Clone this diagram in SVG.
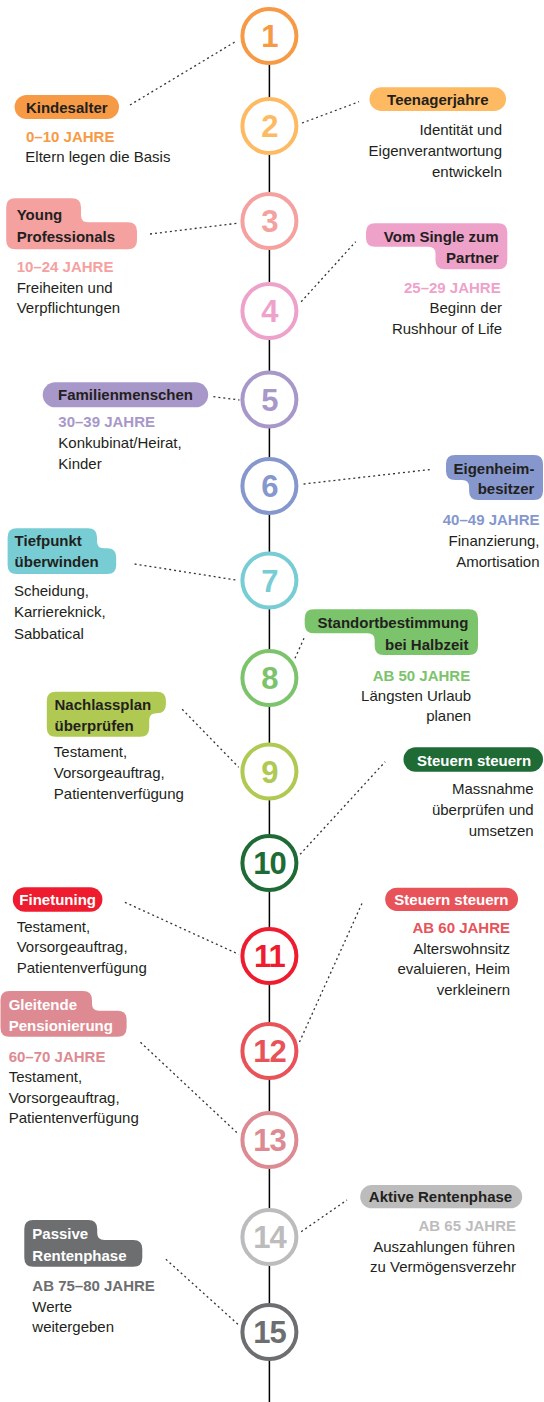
<svg xmlns="http://www.w3.org/2000/svg" width="544" height="1402" viewBox="0 0 544 1402">
<style>
text{font-family:"Liberation Sans",Arial,sans-serif;font-size:15px;fill:#231F20}
.b{font-weight:bold}
.w{fill:#fff}
.e{text-anchor:end}
.m{text-anchor:middle}
.num{font-size:31px;font-weight:bold;text-anchor:middle;letter-spacing:-1px}
.ring{fill:#fff;stroke-width:4}
.dot{stroke:#333;stroke-width:1.3;stroke-dasharray:2 3;fill:none}
.axis{stroke:#000;stroke-width:1.5}
.c1{fill:#F69A45}.r1{stroke:#F69A45}
.c2{fill:#FDBA62}.r2{stroke:#FDBA62}
.c3{fill:#F4A1A0}.r3{stroke:#F4A1A0}
.c4{fill:#EEA2CA}.r4{stroke:#EEA2CA}
.c5{fill:#A898CA}.r5{stroke:#A898CA}
.c6{fill:#8597CD}.r6{stroke:#8597CD}
.c7{fill:#77CDD3}.r7{stroke:#77CDD3}
.c8{fill:#7CC46B}.r8{stroke:#7CC46B}
.c9{fill:#B0C953}.r9{stroke:#B0C953}
.c10{fill:#1F6B36}.r10{stroke:#1F6B36}
.c11{fill:#EE1C2E}.r11{stroke:#EE1C2E}
.c12{fill:#E8535A}.r12{stroke:#E8535A}
.c13{fill:#DD8A92}.r13{stroke:#DD8A92}
.c14{fill:#BDBCBC}.r14{stroke:#BDBCBC}
.c15{fill:#6D6E70}.r15{stroke:#6D6E70}
</style>
<g id="connectors">
<line class="axis" x1="269.4" y1="36" x2="269.4" y2="1402"/>
<line class="dot" x1="130" y1="105" x2="237" y2="40.7"/>
<line class="dot" x1="302" y1="123" x2="359" y2="101.7"/>
<line class="dot" x1="150" y1="234" x2="237" y2="223.3"/>
<line class="dot" x1="301.2" y1="301.7" x2="355.7" y2="241.7"/>
<line class="dot" x1="213.4" y1="396.7" x2="239.4" y2="400"/>
<line class="dot" x1="303.6" y1="484" x2="432" y2="469.3"/>
<line class="dot" x1="134.6" y1="564" x2="236" y2="580"/>
<line class="dot" x1="295" y1="658.3" x2="304.7" y2="636.7"/>
<line class="dot" x1="182.2" y1="709.3" x2="238.7" y2="767.3"/>
<line class="dot" x1="300.1" y1="854.3" x2="385.2" y2="761.7"/>
<line class="dot" x1="124.9" y1="902.3" x2="238.7" y2="954.3"/>
<line class="dot" x1="299.5" y1="1042" x2="362.6" y2="902"/>
<line class="dot" x1="140.5" y1="1042.3" x2="238.7" y2="1134.3"/>
<line class="dot" x1="301.2" y1="1231.7" x2="347" y2="1200"/>
<line class="dot" x1="165.9" y1="1259.3" x2="238.7" y2="1325"/>
</g>
<g id="n1">
<circle class="ring r1" cx="269.4" cy="36" r="27"/>
<text class="num c1" x="269.4" y="47">1</text>
<rect class="c1" x="14.6" y="95" width="104.4" height="24" rx="12"/>
<text class="b m" x="66.8" y="113">Kindesalter</text>
<text class="b c1" x="26" y="141.7">0–10 JAHRE</text>
<text x="25.3" y="161.7">Eltern legen die Basis</text>
</g>
<g id="n2">
<circle class="ring r2" cx="269.4" cy="126" r="27"/>
<text class="num c2" x="269.4" y="137">2</text>
<rect class="c2" x="369.5" y="87.3" width="136.5" height="23.7" rx="11.85"/>
<text class="b m" x="437.8" y="104.5">Teenagerjahre</text>
<text class="e" x="502" y="135">Identität und</text>
<text class="e" x="502" y="155.8">Eigenverantwortung</text>
<text class="e" x="502" y="176.6">entwickeln</text>
</g>
<g id="n3">
<circle class="ring r3" cx="269.4" cy="221" r="27"/>
<text class="num c3" x="269.4" y="232">3</text>
<path class="c3" d="M15.2,198.3 H72 Q81,198.3 81,207.3 V215.3 Q81,222.3 88,222.3 H128 Q137,222.3 137,231.3 V240.3 Q137,249.3 128,249.3 H15.2 Q6.2,249.3 6.2,240.3 V207.3 Q6.2,198.3 15.2,198.3 Z"/>
<text class="b" x="16.7" y="220.3">Young</text>
<text class="b" x="16.7" y="241.7">Professionals</text>
<text class="b c3" x="16.7" y="271.7">10–24 JAHRE</text>
<text x="16.7" y="292.7">Freiheiten und</text>
<text x="16.7" y="313.3">Verpflichtungen</text>
</g>
<g id="n4">
<circle class="ring r4" cx="269.4" cy="311" r="27"/>
<text class="num c4" x="269.4" y="322">4</text>
<path class="c4" d="M375,223.3 H498.3 Q507.3,223.3 507.3,232.3 V260.3 Q507.3,269.3 498.3,269.3 H444.5 Q435.5,269.3 435.5,260.3 V253.7 Q435.5,246.7 428.5,246.7 H375 Q366,246.7 366,237.7 V232.3 Q366,223.3 375,223.3 Z"/>
<text class="b e" x="498.6" y="241.7">Vom Single zum</text>
<text class="b e" x="498.6" y="263.3">Partner</text>
<text class="b e c4" x="500.7" y="293.3">25–29 JAHRE</text>
<text class="e" x="502" y="313.3">Beginn der</text>
<text class="e" x="502" y="334">Rushhour of Life</text>
</g>
<g id="n5">
<circle class="ring r5" cx="269.4" cy="399.5" r="27"/>
<text class="num c5" x="269.4" y="410.5">5</text>
<rect class="c5" x="42.7" y="382.3" width="165.5" height="25" rx="12.5"/>
<text class="b m" x="125.5" y="399.8">Familienmenschen</text>
<text class="b c5" x="58.3" y="427.3">30–39 JAHRE</text>
<text x="58.3" y="448.3">Konkubinat/Heirat,</text>
<text x="58.3" y="469">Kinder</text>
</g>
<g id="n6">
<circle class="ring r6" cx="269.4" cy="486" r="27"/>
<text class="num c6" x="269.4" y="497">6</text>
<path class="c6" d="M455,455 H534 Q543,455 543,464 V491 Q543,500 534,500 H478.1 Q469.1,500 469.1,491 V487 Q469.1,480 462.1,480 H455 Q446,480 446,471 V464 Q446,455 455,455 Z"/>
<text class="b e" x="534.4" y="474">Eigenheim-</text>
<text class="b e" x="534.4" y="494">besitzer</text>
<text class="b e c6" x="539.5" y="525">40–49 JAHRE</text>
<text class="e" x="539.5" y="546">Finanzierung,</text>
<text class="e" x="539.5" y="567">Amortisation</text>
</g>
<g id="n7">
<circle class="ring r7" cx="269.4" cy="580.5" r="27"/>
<text class="num c7" x="269.4" y="591.5">7</text>
<path class="c7" d="M16.6,528.3 H88 Q97,528.3 97,537.3 V541.3 Q97,548.3 104,548.3 H107.2 Q116.2,548.3 116.2,557.3 V565 Q116.2,574 107.2,574 H16.6 Q7.6,574 7.6,565 V537.3 Q7.6,528.3 16.6,528.3 Z"/>
<text class="b" x="14.6" y="546">Tiefpunkt</text>
<text class="b" x="14.6" y="567">überwinden</text>
<text x="13.9" y="596">Scheidung,</text>
<text x="13.9" y="617.3">Karriereknick,</text>
<text x="13.9" y="638.5">Sabbatical</text>
</g>
<g id="n8">
<circle class="ring r8" cx="269.4" cy="678" r="27"/>
<text class="num c8" x="269.4" y="689">8</text>
<path class="c8" d="M313.7,609.3 H469 Q478,609.3 478,618.3 V646 Q478,655 469,655 H383.7 Q374.7,655 374.7,646 V640.3 Q374.7,633.3 367.7,633.3 H313.7 Q304.7,633.3 304.7,624.3 V618.3 Q304.7,609.3 313.7,609.3 Z"/>
<text class="b e" x="468.4" y="628.3">Standortbestimmung</text>
<text class="b e" x="468.4" y="649.5">bei Halbzeit</text>
<text class="b e c8" x="470.2" y="681">AB 50 JAHRE</text>
<text class="e" x="471.2" y="700.5">Längsten Urlaub</text>
<text class="e" x="471.2" y="721">planen</text>
</g>
<g id="n9">
<circle class="ring r9" cx="269.4" cy="771.5" r="27"/>
<text class="num c9" x="269.4" y="782.5">9</text>
<path class="c9" d="M55.8,691.7 H156.9 Q165.9,691.7 165.9,700.7 V704.3 Q165.9,713.3 156.9,713.3 H156.2 Q149.2,713.3 149.2,720.3 V727.7 Q149.2,736.7 140.2,736.7 H55.8 Q46.8,736.7 46.8,727.7 V700.7 Q46.8,691.7 55.8,691.7 Z"/>
<text class="b" x="54.5" y="710">Nachlassplan</text>
<text class="b" x="54.5" y="730.7">überprüfen</text>
<text x="53.8" y="756.7">Testament,</text>
<text x="53.8" y="777.8">Vorsorgeauftrag,</text>
<text x="53.8" y="798.8">Patientenverfügung</text>
</g>
<g id="n10">
<circle class="ring r10" cx="269.4" cy="863" r="27"/>
<text class="num c10" x="269.4" y="874">10</text>
<rect class="c10" x="403.5" y="747.3" width="139.5" height="24.4" rx="12.2"/>
<text class="b m w" x="474" y="765.5">Steuern steuern</text>
<text class="e" x="533.7" y="793.5">Massnahme</text>
<text class="e" x="533.7" y="814.5">überprüfen und</text>
<text class="e" x="533.7" y="835.5">umsetzen</text>
</g>
<g id="n11">
<circle class="ring r11" cx="269.4" cy="956" r="27"/>
<text class="num c11" x="269.4" y="967">11</text>
<rect class="c11" x="12.8" y="887.3" width="89.6" height="24.4" rx="12.2"/>
<text class="b m w" x="57.7" y="904.8">Finetuning</text>
<text x="16.7" y="931.5">Testament,</text>
<text x="16.7" y="952.3">Vorsorgeauftrag,</text>
<text x="16.7" y="973">Patientenverfügung</text>
</g>
<g id="n12">
<circle class="ring r12" cx="269.4" cy="1051" r="27"/>
<text class="num c12" x="269.4" y="1062">12</text>
<rect class="c12" x="385.2" y="887.7" width="132.8" height="23.3" rx="11.65"/>
<text class="b m w" x="451.4" y="904.6">Steuern steuern</text>
<text class="b e c12" x="510" y="933.3">AB 60 JAHRE</text>
<text class="e" x="510" y="953.8">Alterswohnsitz</text>
<text class="e" x="510" y="974.4">evaluieren, Heim</text>
<text class="e" x="510" y="995">verkleinern</text>
</g>
<g id="n13">
<circle class="ring r13" cx="269.4" cy="1140" r="27"/>
<text class="num c13" x="269.4" y="1151">13</text>
<path class="c13" d="M9.5,991 H83 Q92,991 92,1000 V1003.7 Q92,1010.7 99,1010.7 H117.6 Q126.6,1010.7 126.6,1019.7 V1027.7 Q126.6,1036.7 117.6,1036.7 H9.5 Q0.5,1036.7 0.5,1027.7 V1000 Q0.5,991 9.5,991 Z"/>
<text class="b w" x="8.7" y="1009.5">Gleitende</text>
<text class="b w" x="8.7" y="1030.5">Pensionierung</text>
<text class="b c13" x="8.7" y="1061.7">60–70 JAHRE</text>
<text x="8.7" y="1081.7">Testament,</text>
<text x="8.7" y="1102.5">Vorsorgeauftrag,</text>
<text x="8.7" y="1123.3">Patientenverfügung</text>
</g>
<g id="n14">
<circle class="ring r14" cx="269.4" cy="1237" r="27"/>
<text class="num c14" x="269.4" y="1248">14</text>
<rect class="c14" x="360.2" y="1185" width="162" height="23.3" rx="11.65"/>
<text class="b m" x="440.5" y="1202.3">Aktive Rentenphase</text>
<text class="b e c14" x="516" y="1231">AB 65 JAHRE</text>
<text class="e" x="515" y="1251.7">Auszahlungen führen</text>
<text class="e" x="516" y="1272">zu Vermögensverzehr</text>
</g>
<g id="n15">
<circle class="ring r15" cx="269.4" cy="1332" r="27"/>
<text class="num c15" x="269.4" y="1343">15</text>
<path class="c15" d="M33.3,1220 H88.2 Q97.2,1220 97.2,1229 V1233 Q97.2,1240 104.2,1240 H133.3 Q142.3,1240 142.3,1249 V1257.7 Q142.3,1266.7 133.3,1266.7 H33.3 Q24.3,1266.7 24.3,1257.7 V1229 Q24.3,1220 33.3,1220 Z"/>
<text class="b w" x="32.3" y="1239">Passive</text>
<text class="b w" x="32.3" y="1260.5">Rentenphase</text>
<text class="b c15" x="32.3" y="1290.7">AB 75–80 JAHRE</text>
<text x="32.3" y="1311.7">Werte</text>
<text x="32.3" y="1332">weitergeben</text>
</g>
</svg>
